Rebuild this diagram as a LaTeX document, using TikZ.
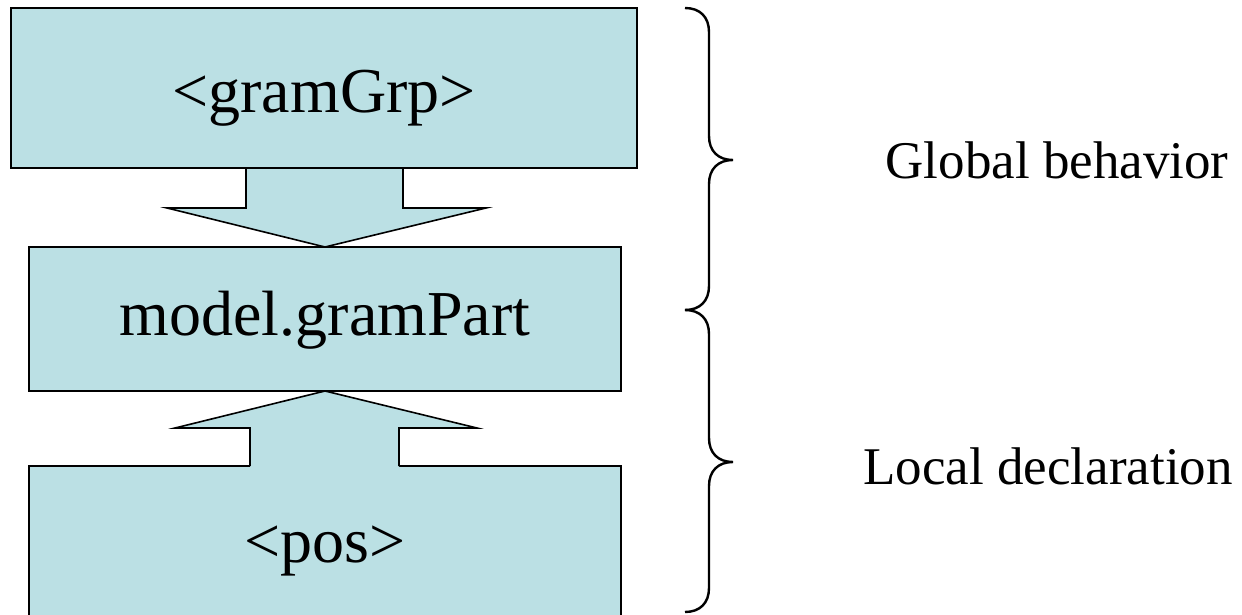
\documentclass[tikz,border=0pt]{standalone}
\usepackage{fontspec}
\setmainfont{Liberation Serif}
\usetikzlibrary{calc}
\definecolor{boxfill}{RGB}{187,224,228}
\tikzset{
  boxnode/.style={draw=black, line width=2.2pt, fill=boxfill, inner sep=0pt},
  boxtext/.style={font=\fontsize{64}{70}\selectfont, inner sep=0pt},
  arrowfill/.style={fill=boxfill, draw=none},
  arrowline/.style={draw=black, line width=1.6pt, line join=miter},
  bracestyle/.style={draw=black, line width=2.4pt},
  labelnode/.style={font=\fontsize{53}{60}\selectfont, inner sep=0pt}
}
\begin{document}
\begin{tikzpicture}[x=1pt,y=-1pt]
\useasboundingbox (0,0) rectangle (1242,615);
\clip (0,0) rectangle (1242,615);
% down arrow (behind top box)
\coordinate (d1) at (246,168);
\coordinate (d2) at (246,208);
\coordinate (d3) at (167,208);
\coordinate (d4) at (325,247);
\coordinate (d5) at (486,208);
\coordinate (d6) at (403,208);
\coordinate (d7) at (403,168);
\fill[arrowfill] (d1) -- (d2) -- (d3) -- (d4) -- (d5) -- (d6) -- (d7) -- cycle;
\draw[arrowline] (d1) -- (d2) -- (d3) -- (d4) -- (d5) -- (d6) -- (d7);
% boxes
\node[boxnode, minimum width=626pt, minimum height=160pt] (top) at (324,88) {};
\node[boxnode, minimum width=592pt, minimum height=144pt] (mid) at (325,319) {};
\node[boxnode, minimum width=592pt, minimum height=160pt] (bot) at (325,546) {};
% up arrow (in front of bottom box)
\coordinate (u1) at (250,469);
\coordinate (u2) at (250,428);
\coordinate (u3) at (175,428);
\coordinate (u4) at (325,391);
\coordinate (u5) at (477,428);
\coordinate (u6) at (399,428);
\coordinate (u7) at (399,469);
\coordinate (u1b) at (250,466);
\coordinate (u7b) at (399,466);
\fill[arrowfill] (u1) -- (u2) -- (u3) -- (u4) -- (u5) -- (u6) -- (u7) -- cycle;
\draw[arrowline] (u1b) -- (u2) -- (u3) -- (u4) -- (u5) -- (u6) -- (u7b);
% texts
\node[boxtext] (toptext) at (324,98) {<gramGrp>};
\node[boxtext] (midtext) at (325,320) {model.gramPart};
\node[boxtext] (bottext) at (325,551) {<pos>};
% braces
\coordinate (b1) at (685,8);
\coordinate (b2) at (733,160);
\coordinate (b3) at (685,310);
\coordinate (b4) at (733,462);
\coordinate (b5) at (685,612);
\draw[bracestyle] (b1) .. controls (700,8) and (709,17) .. (709,32) -- (709,136)
  .. controls (709,151) and (718,160) .. (b2)
  .. controls (718,160) and (709,169) .. (709,184) -- (709,286)
  .. controls (709,301) and (700,310) .. (b3);
\draw[bracestyle] (b3) .. controls (700,310) and (709,319) .. (709,334) -- (709,438)
  .. controls (709,453) and (718,462) .. (b4)
  .. controls (718,462) and (709,471) .. (709,486) -- (709,588)
  .. controls (709,603) and (700,612) .. (b5);
\node[labelnode] (global) at (1057,160) {Global behavior};
\node[labelnode] (local) at (1048,466) {Local declaration};
\end{tikzpicture}
\end{document}
